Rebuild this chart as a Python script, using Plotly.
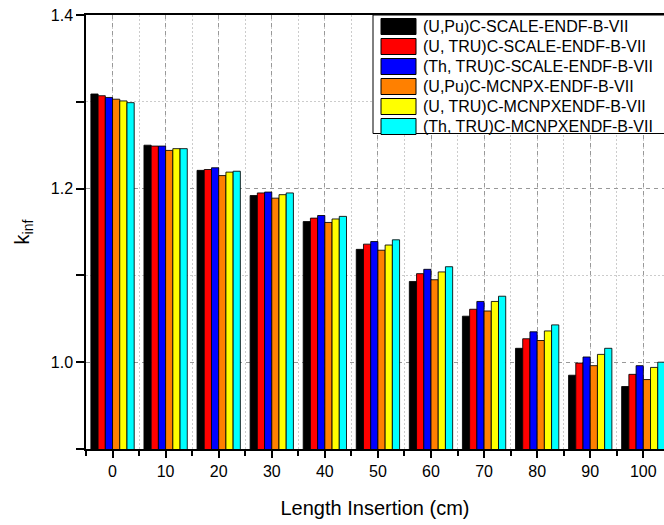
import plotly.graph_objects as go

lengths = [0, 10, 20, 30, 40, 50, 60, 70, 80, 90, 100]
names = [
    "(U,Pu)C-SCALE-ENDF-B-VII",
    "(U, TRU)C-SCALE-ENDF-B-VII",
    "(Th, TRU)C-SCALE-ENDF-B-VII",
    "(U,Pu)C-MCNPX-ENDF-B-VII",
    "(U, TRU)C-MCNPXENDF-B-VII",
    "(Th, TRU)C-MCNPXENDF-B-VII",
]
upu_scale = [1.309, 1.250, 1.221, 1.192, 1.162, 1.130, 1.093, 1.053, 1.016, 0.985, 0.972]
utru_scale = [1.307, 1.249, 1.222, 1.195, 1.166, 1.136, 1.102, 1.061, 1.027, 0.999, 0.986]
thtru_scale = [1.305, 1.249, 1.224, 1.196, 1.169, 1.139, 1.107, 1.070, 1.035, 1.006, 0.996]
upu_mcnpx = [1.303, 1.244, 1.215, 1.189, 1.161, 1.129, 1.095, 1.059, 1.025, 0.996, 0.980]
utru_mcnpx = [1.301, 1.246, 1.219, 1.193, 1.165, 1.135, 1.104, 1.070, 1.036, 1.009, 0.994]
thtru_mcnpx = [1.299, 1.246, 1.220, 1.195, 1.168, 1.141, 1.110, 1.076, 1.043, 1.016, 1.000]
series = [upu_scale, utru_scale, thtru_scale, upu_mcnpx, utru_mcnpx, thtru_mcnpx]
colors = ["#000000", "#ff0000", "#0000ff", "#ff8000", "#ffff00", "#00ffff"]

W, H = 664, 525
ML, MR, MT, MB = 86, 0, 15, 76
FONT = "Liberation Sans, Arial, Helvetica, sans-serif"

fig = go.Figure()
for name, vals, col in zip(names, series, colors):
    fig.add_trace(go.Bar(
        x=lengths, y=vals, name=name,
        marker=dict(color=col, line=dict(color="rgba(0,0,0,0.85)", width=1)),
        showlegend=False,
    ))

# custom legend (pixel layout converted to paper coords)
pw, ph = W - ML - MR, H - MT - MB
def px(x):
    return (x - ML) / pw
def py(y):
    return 1 - (y - MT) / ph

shapes = [dict(type="rect", xref="paper", yref="paper",
               x0=px(373), x1=px(670), y0=py(133.5), y1=py(15),
               line=dict(color="black", width=1), fillcolor="white", layer="above")]
annotations = []
for i, (name, col) in enumerate(zip(names, colors)):
    top = 18.5 + 20 * i
    shapes.append(dict(type="rect", xref="paper", yref="paper",
                       x0=px(381), x1=px(416), y0=py(top + 16), y1=py(top),
                       line=dict(color="black", width=1), fillcolor=col, layer="above"))
    annotations.append(dict(xref="paper", yref="paper", x=px(421), y=py(top + 8.3),
                            xanchor="left", yanchor="middle", showarrow=False,
                            text=name, font=dict(size=16, color="black", family=FONT)))

fig.update_layout(
    width=W, height=H,
    margin=dict(l=ML, r=MR, t=MT, b=MB, pad=0),
    paper_bgcolor="white", plot_bgcolor="white",
    barmode="group", bargap=0.184, bargroupgap=0,
    font=dict(family=FONT, color="black"),
    shapes=shapes, annotations=annotations,
    xaxis=dict(
        range=[-5, 103.9], tickmode="array", tickvals=lengths,
        ticks="outside", ticklen=7, tickwidth=1.5, tickcolor="black",
        showline=True, linecolor="black", linewidth=1.5, mirror=True,
        showgrid=True, gridcolor="#999999", griddash="4px,4px", gridwidth=1,
        minor=dict(dtick=5, tick0=5, ticks="outside", ticklen=5, tickwidth=1.5, tickcolor="black",
                   showgrid=True, gridcolor="#cccccc", griddash="2px,2px", gridwidth=1),
        tickfont=dict(size=16),
        title=dict(text="Length Insertion (cm)", font=dict(size=20), standoff=22),
        zeroline=False,
    ),
    yaxis=dict(
        range=[0.9, 1.4], dtick=0.2, tick0=1.0, tickformat=".1f",
        ticks="outside", ticklen=8, tickwidth=1.5, tickcolor="black",
        showline=True, linecolor="black", linewidth=1.5, mirror=False,
        showgrid=True, gridcolor="#999999", griddash="4px,4px", gridwidth=1,
        minor=dict(dtick=0.1, tick0=0.9, ticks="outside", ticklen=8, tickwidth=1.5, tickcolor="black",
                   showgrid=True, gridcolor="#cccccc", griddash="2px,2px", gridwidth=1),
        tickfont=dict(size=16),
        title=dict(text="k<sub>inf</sub>", font=dict(size=20), standoff=16),
        zeroline=False,
    ),
)

fig.write_html("out.html")
